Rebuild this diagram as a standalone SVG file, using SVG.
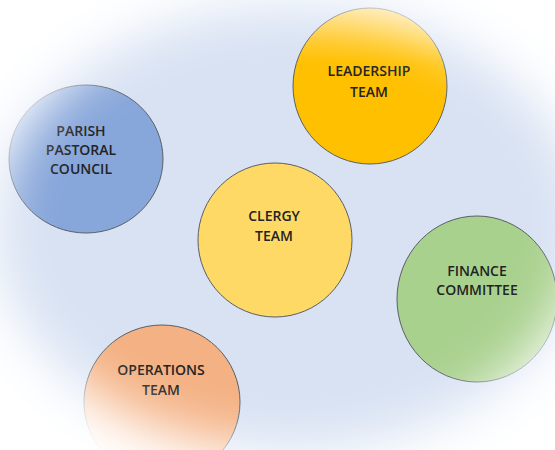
<svg xmlns="http://www.w3.org/2000/svg" width="555" height="450" viewBox="0 0 555 450">
  <style>
    .node { stroke: #5a5f66; stroke-width: 1; }
    .label { font-family: "Open Sans", "Liberation Sans", sans-serif; font-size: 14px; font-weight: 600; fill: #222; text-anchor: middle; }
  </style>
  <defs>
    <filter id="blur" x="-30%" y="-30%" width="160%" height="160%">
      <feGaussianBlur stdDeviation="28"/>
    </filter>
    <mask id="vignette" maskUnits="userSpaceOnUse" x="0" y="0" width="555" height="450">
      <rect x="0" y="0" width="555" height="450" fill="#fff"/>
      <ellipse cx="290" cy="228" rx="295" ry="222" fill="#000" filter="url(#blur)"/>
    </mask>
    <linearGradient id="gLead" x1="0" y1="0" x2="0" y2="1">
      <stop offset="0" stop-color="#ffd04d"/>
      <stop offset="0.35" stop-color="#ffc000"/>
      <stop offset="1" stop-color="#ffc000"/>
    </linearGradient>
  </defs>
  <rect x="0" y="0" width="555" height="450" fill="#d8e2f3"/>

  <g id="connectors"></g>

  <g id="leadership">
    <ellipse class="node" cx="370" cy="86" rx="77" ry="78" fill="url(#gLead)"/>
    <text class="label" x="369" y="76">LEADERSHIP</text>
    <text class="label" x="369" y="97">TEAM</text>
  </g>
  <g id="parish">
    <ellipse class="node" cx="86" cy="159" rx="77" ry="74" fill="#87a6da"/>
    <text class="label" x="81" y="136">PARISH</text>
    <text class="label" x="81" y="155">PASTORAL</text>
    <text class="label" x="81" y="174">COUNCIL</text>
  </g>
  <g id="clergy">
    <ellipse class="node" cx="275" cy="240" rx="77" ry="77" fill="#ffd966"/>
    <text class="label" x="274" y="221">CLERGY</text>
    <text class="label" x="274" y="241">TEAM</text>
  </g>
  <g id="finance">
    <ellipse class="node" cx="477" cy="299" rx="80" ry="83" fill="#a9d18e"/>
    <text class="label" x="477" y="276">FINANCE</text>
    <text class="label" x="477" y="295">COMMITTEE</text>
  </g>
  <g id="operations">
    <ellipse class="node" cx="162" cy="402" rx="78" ry="77" fill="#f4b183"/>
    <text class="label" x="161" y="375">OPERATIONS</text>
    <text class="label" x="161" y="395">TEAM</text>
  </g>

  <rect x="0" y="0" width="555" height="450" fill="#fff" mask="url(#vignette)"/>
</svg>
